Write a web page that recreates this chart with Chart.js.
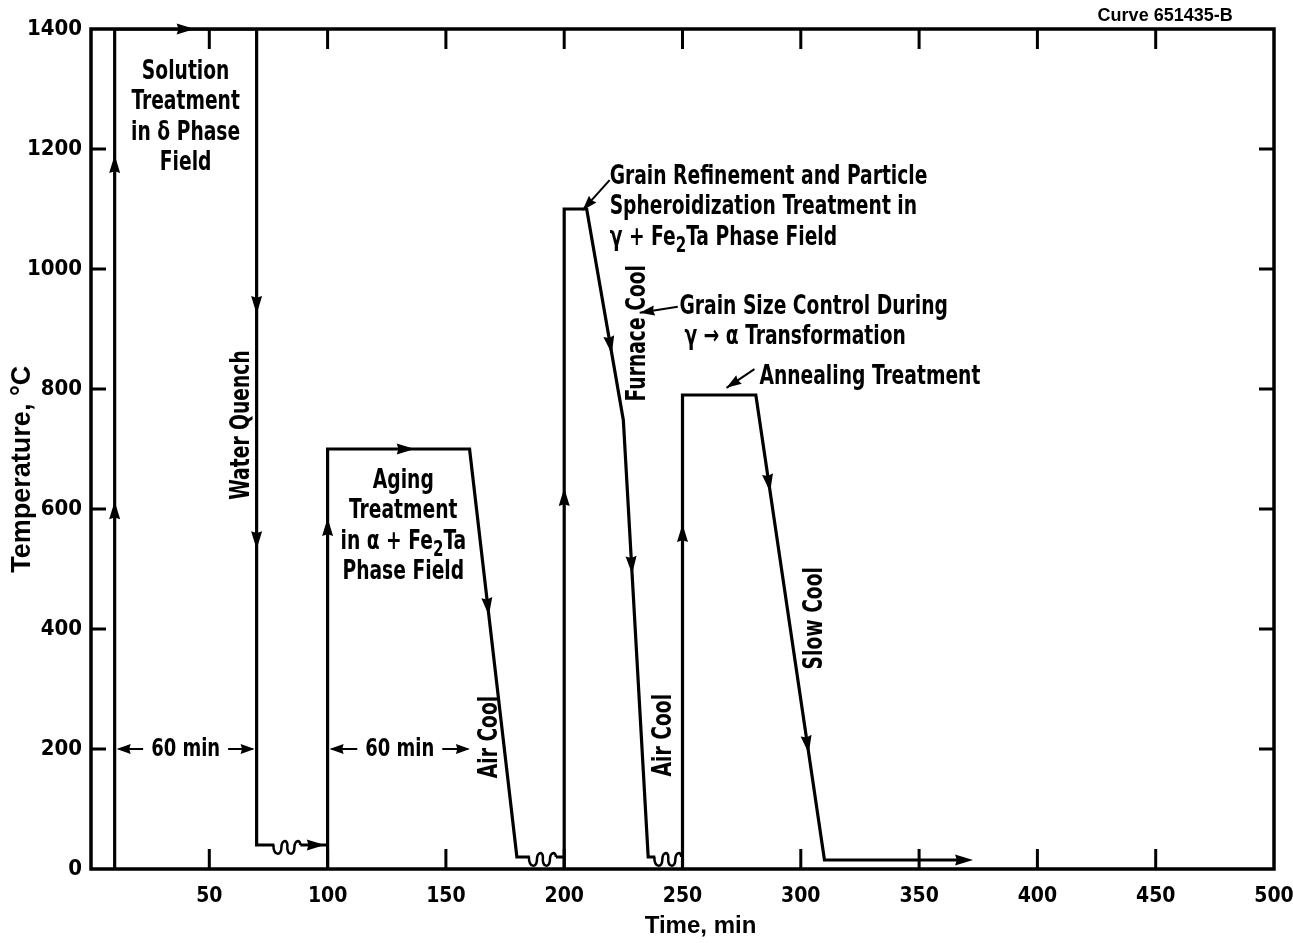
<!DOCTYPE html>
<html>
<head>
<meta charset="utf-8">
<script src="https://cdn.jsdelivr.net/npm/chart.js@4.4.1/dist/chart.umd.min.js"></script>
<style>
  html, body { margin: 0; padding: 0; background: #fff; }
  canvas { display: block; }
</style>
</head>
<body>
<canvas id="chart" width="1293" height="943"></canvas>
<script>
// Heat-treatment schedule: temperature (°C) against elapsed time (min)
const timeMin = [10, 10, 70, 70, 100, 100, 100, 160, 180, 200, 200, 200, 209.5, 225, 235.5, 250, 250, 250, 281, 310, 370];
const tempC   = [0, 1400, 1400, 40, 40, 0, 700, 700, 20, 20, 0, 1100, 1100, 748, 20, 20, 0, 790, 790, 15, 15];

// Axis ticks
const xTicks = [0, 50, 100, 150, 200, 250, 300, 350, 400, 450, 500];
const yTicks = [0, 200, 400, 600, 800, 1000, 1200, 1400];

// Direction arrows along the schedule (time, temperature)
const flowArrowTime = [10, 10, 40, 70, 70, 95, 100, 133, 167, 200, 219, 230.5, 250, 286, 302, 369];
const flowArrowTemp = [598, 1175, 1400, 940, 548, 40, 570, 700, 437, 620, 873, 507, 560, 643, 207, 15];

// Time-scale breaks on the low-temperature holds
const breakTime = [83, 191, 244];
const breakTemp = [40, 20, 20];

// Hold-time dimension marks
const spanFrom  = [10, 100];
const spanTo    = [70, 161];
const spanTemp  = [200, 200];
const spanLabel = ['60 min', '60 min'];

const FONT = '"DejaVu Sans Condensed", "DejaVu Sans", sans-serif';
const SANS = '"Liberation Sans", Arial, sans-serif';

// Annotation text, anchored in data coordinates
const notes = [
  { lines: ['Solution', 'Treatment', 'in δ Phase', 'Field'], x: 40, y: 1328, align: 'center' },
  { lines: ['Water Quench'], x: 64.1, y: 740, rotate: true },
  { lines: ['Aging', 'Treatment', 'in α + Fe_2Ta', 'Phase Field'], x: 132, y: 647, align: 'center' },
  { lines: ['Air Cool'], x: 168.6, y: 220, rotate: true },
  { lines: ['Grain Refinement and Particle', 'Spheroidization Treatment in', 'γ + Fe_2Ta Phase Field'], x: 219.2, y: 1153, align: 'left' },
  { lines: ['Furnace Cool'], x: 231.2, y: 893, rotate: true },
  { lines: ['Grain Size Control During'], x: 248.7, y: 937, align: 'left' },
  { lines: ['γ → α Transformation'], x: 250.8, y: 887, align: 'left' },
  { lines: ['Annealing Treatment'], x: 282.5, y: 820, align: 'left' },
  { lines: ['Air Cool'], x: 242.4, y: 223, rotate: true },
  { lines: ['Slow Cool'], x: 306.2, y: 418, rotate: true },
  { lines: ['Curve 651435-B'], x: 454, y: 1422, align: 'center', size: 18, family: SANS, squeeze: 1 }
];

// Leader lines from labels to the stages they describe
const leaders = [
  { x1: 219.2, y1: 1148, x2: 207.8, y2: 1098 },
  { x1: 248, y1: 937, x2: 231.9, y2: 927 },
  { x1: 280.4, y1: 833, x2: 268.6, y2: 802 }
];

function arrowHead(ctx, tipX, tipY, ang, len, half) {
  ctx.save();
  ctx.translate(tipX, tipY);
  ctx.rotate(ang);
  ctx.beginPath();
  ctx.moveTo(0, 0);
  ctx.lineTo(-len, -half);
  ctx.lineTo(-len * 0.9, 0);
  ctx.lineTo(-len, half);
  ctx.closePath();
  ctx.fill();
  ctx.restore();
}

// Text with "_2" style subscripts, narrowed horizontally by `sx`
function richParts(text) {
  const out = [];
  const re = /_(\d)/g;
  let last = 0, m;
  while ((m = re.exec(text))) {
    if (m.index > last) out.push({ t: text.slice(last, m.index), sub: false });
    out.push({ t: m[1], sub: true });
    last = m.index + m[0].length;
  }
  if (last < text.length) out.push({ t: text.slice(last), sub: false });
  return out;
}

function drawRich(ctx, text, x, y, align, size, family, sx) {
  const parts = richParts(text);
  const normal = 'bold ' + size + 'px ' + family;
  const small = 'bold ' + Math.round(size * 0.8) + 'px ' + family;
  let total = 0;
  parts.forEach(p => { ctx.font = p.sub ? small : normal; p.w = ctx.measureText(p.t).width; total += p.w; });
  let cx = align === 'center' ? -total / 2 : (align === 'right' ? -total : 0);
  ctx.save();
  ctx.translate(x, y);
  ctx.scale(sx, 1);
  ctx.textAlign = 'left';
  ctx.textBaseline = 'middle';
  parts.forEach(p => {
    ctx.font = p.sub ? small : normal;
    ctx.fillText(p.t, cx, p.sub ? size * 0.32 : 0);
    cx += p.w;
  });
  ctx.restore();
  return total * sx;
}

const decorations = {
  id: 'decorations',
  afterDatasetsDraw(chart) {
    const { ctx, chartArea: a, scales: { x, y } } = chart;
    ctx.save();
    ctx.fillStyle = '#000';
    ctx.strokeStyle = '#000';
    ctx.lineCap = 'butt';

    // breaks in the time scale on the holds
    breakTime.forEach((t, i) => {
      const px = x.getPixelForValue(t), py = y.getPixelForValue(breakTemp[i]);
      const u = 13;
      const s0 = px - u;
      ctx.fillStyle = '#fff';
      ctx.fillRect(s0, py - 3, 2 * u, 6);
      ctx.fillStyle = '#000';
      ctx.lineWidth = 2.5;
      ctx.beginPath();
      ctx.moveTo(s0 - 1, py);
      for (let k = 0; k < 2; k++) {
        const s = s0 + k * u;
        ctx.bezierCurveTo(s - 1, py + 11, s + 7, py + 11, s + 7, py + 3);
        ctx.bezierCurveTo(s + 7, py - 5, s + u, py - 6, s + u, py);
      }
      ctx.stroke();
    });

    // direction arrows, aligned with the schedule segment they sit on
    const pts = timeMin.map((t, i) => ({ x: x.getPixelForValue(t), y: y.getPixelForValue(tempC[i]) }));
    flowArrowTime.forEach((t, i) => {
      const px = x.getPixelForValue(t), py = y.getPixelForValue(flowArrowTemp[i]);
      let best = null;
      for (let s = 0; s < pts.length - 1; s++) {
        const p = pts[s], q = pts[s + 1];
        const dx = q.x - p.x, dy = q.y - p.y, L2 = dx * dx + dy * dy;
        if (!L2) continue;
        let v = ((px - p.x) * dx + (py - p.y) * dy) / L2;
        v = Math.max(0, Math.min(1, v));
        const cx = p.x + v * dx, cy = p.y + v * dy;
        const d = Math.hypot(px - cx, py - cy);
        if (!best || d < best.d) best = { d, cx, cy, ang: Math.atan2(dy, dx) };
      }
      const len = 18;
      arrowHead(ctx, best.cx + Math.cos(best.ang) * len / 2, best.cy + Math.sin(best.ang) * len / 2, best.ang, len, 5.5);
    });

    // hold-time dimension marks
    spanLabel.forEach((lab, i) => {
      const x1 = x.getPixelForValue(spanFrom[i]), x2 = x.getPixelForValue(spanTo[i]);
      const py = y.getPixelForValue(spanTemp[i]);
      const cx = (x1 + x2) / 2;
      const w = drawRich(ctx, lab, cx, py, 'center', 25, FONT, 0.8);
      ctx.lineWidth = 2;
      ctx.beginPath();
      ctx.moveTo(cx - w / 2 - 8, py); ctx.lineTo(x1 + 4, py);
      ctx.moveTo(cx + w / 2 + 8, py); ctx.lineTo(x2 - 4, py);
      ctx.stroke();
      arrowHead(ctx, x1 + 2, py, Math.PI, 14, 5);
      arrowHead(ctx, x2 - 2, py, 0, 14, 5);
    });

    // annotation text
    notes.forEach(n => {
      const size = n.size || 26;
      const family = n.family || FONT;
      const sx = n.squeeze || 0.8;
      const px = x.getPixelForValue(n.x), py = y.getPixelForValue(n.y);
      if (n.rotate) {
        ctx.save();
        ctx.translate(px, py);
        ctx.rotate(-Math.PI / 2);
        drawRich(ctx, n.lines[0], 0, 0, 'center', size, family, sx);
        ctx.restore();
      } else {
        n.lines.forEach((ln, k) => drawRich(ctx, ln, px, py + k * 30.5, n.align, size, family, sx));
      }
    });

    // leader lines
    leaders.forEach(l => {
      const ax = x.getPixelForValue(l.x1), ay = y.getPixelForValue(l.y1);
      const bx = x.getPixelForValue(l.x2), by = y.getPixelForValue(l.y2);
      ctx.lineWidth = 2;
      ctx.beginPath(); ctx.moveTo(ax, ay); ctx.lineTo(bx, by); ctx.stroke();
      arrowHead(ctx, bx, by, Math.atan2(by - ay, bx - ax), 15, 5);
    });

    // frame and inward tick marks
    ctx.lineWidth = 3.5;
    ctx.strokeRect(a.left, a.top, a.right - a.left, a.bottom - a.top);
    ctx.lineWidth = 3;
    ctx.beginPath();
    xTicks.forEach(v => {
      if (v <= x.min || v >= x.max) return;
      const px = x.getPixelForValue(v);
      ctx.moveTo(px, a.bottom); ctx.lineTo(px, a.bottom - 20);
      ctx.moveTo(px, a.top); ctx.lineTo(px, a.top + 20);
    });
    yTicks.forEach(v => {
      if (v <= y.min || v >= y.max) return;
      const py = y.getPixelForValue(v);
      ctx.moveTo(a.left, py); ctx.lineTo(a.left + 15, py);
      ctx.moveTo(a.right, py); ctx.lineTo(a.right - 15, py);
    });
    ctx.stroke();
    ctx.restore();
  }
};

const tickFont = { family: FONT, size: 22, weight: 'bold' };

new Chart(document.getElementById('chart'), {
  type: 'scatter',
  data: {
    datasets: [{
      data: timeMin.map((t, i) => ({ x: t, y: tempC[i] })),
      showLine: true,
      borderColor: '#000',
      borderWidth: 3.2,
      pointRadius: 0,
      tension: 0,
      borderJoinStyle: 'miter'
    }]
  },
  options: {
    responsive: false,
    animation: false,
    devicePixelRatio: 1,
    layout: { padding: { top: 29, right: 0, left: 0, bottom: 0 } },
    plugins: { legend: { display: false }, tooltip: { enabled: false } },
    scales: {
      x: {
        type: 'linear', min: 0, max: 500,
        afterBuildTicks: s => { s.ticks = xTicks.map(v => ({ value: v })); },
        afterFit: s => { s.height = 74; s.paddingLeft = 0; s.paddingRight = 19; },
        grid: { display: false, drawTicks: false },
        border: { display: false },
        ticks: { color: '#000', font: { family: FONT, size: 21, weight: 'bold' }, padding: 15, maxRotation: 0, autoSkip: false,
                 callback: v => (v === 0 ? '' : String(v)) },
        title: { display: true, text: '\u2003\u2002Time, min', color: '#000',
                 font: { family: SANS, size: 24, weight: 'bold' }, padding: { top: 0, bottom: 2 } }
      },
      y: {
        type: 'linear', min: 0, max: 1400,
        afterBuildTicks: s => { s.ticks = yTicks.map(v => ({ value: v })); },
        afterFit: s => { s.width = 91; },
        grid: { display: false, drawTicks: false },
        border: { display: false },
        ticks: { color: '#000', font: tickFont, padding: 9, autoSkip: false, callback: v => String(v) },
        title: { display: true, text: 'Temperature, °C\u2003\u2002', color: '#000',
                 font: { family: SANS, size: 27, weight: 'bold' }, padding: { top: 6, bottom: 0 } }
      }
    }
  },
  plugins: [decorations]
});
</script>
</body>
</html>
